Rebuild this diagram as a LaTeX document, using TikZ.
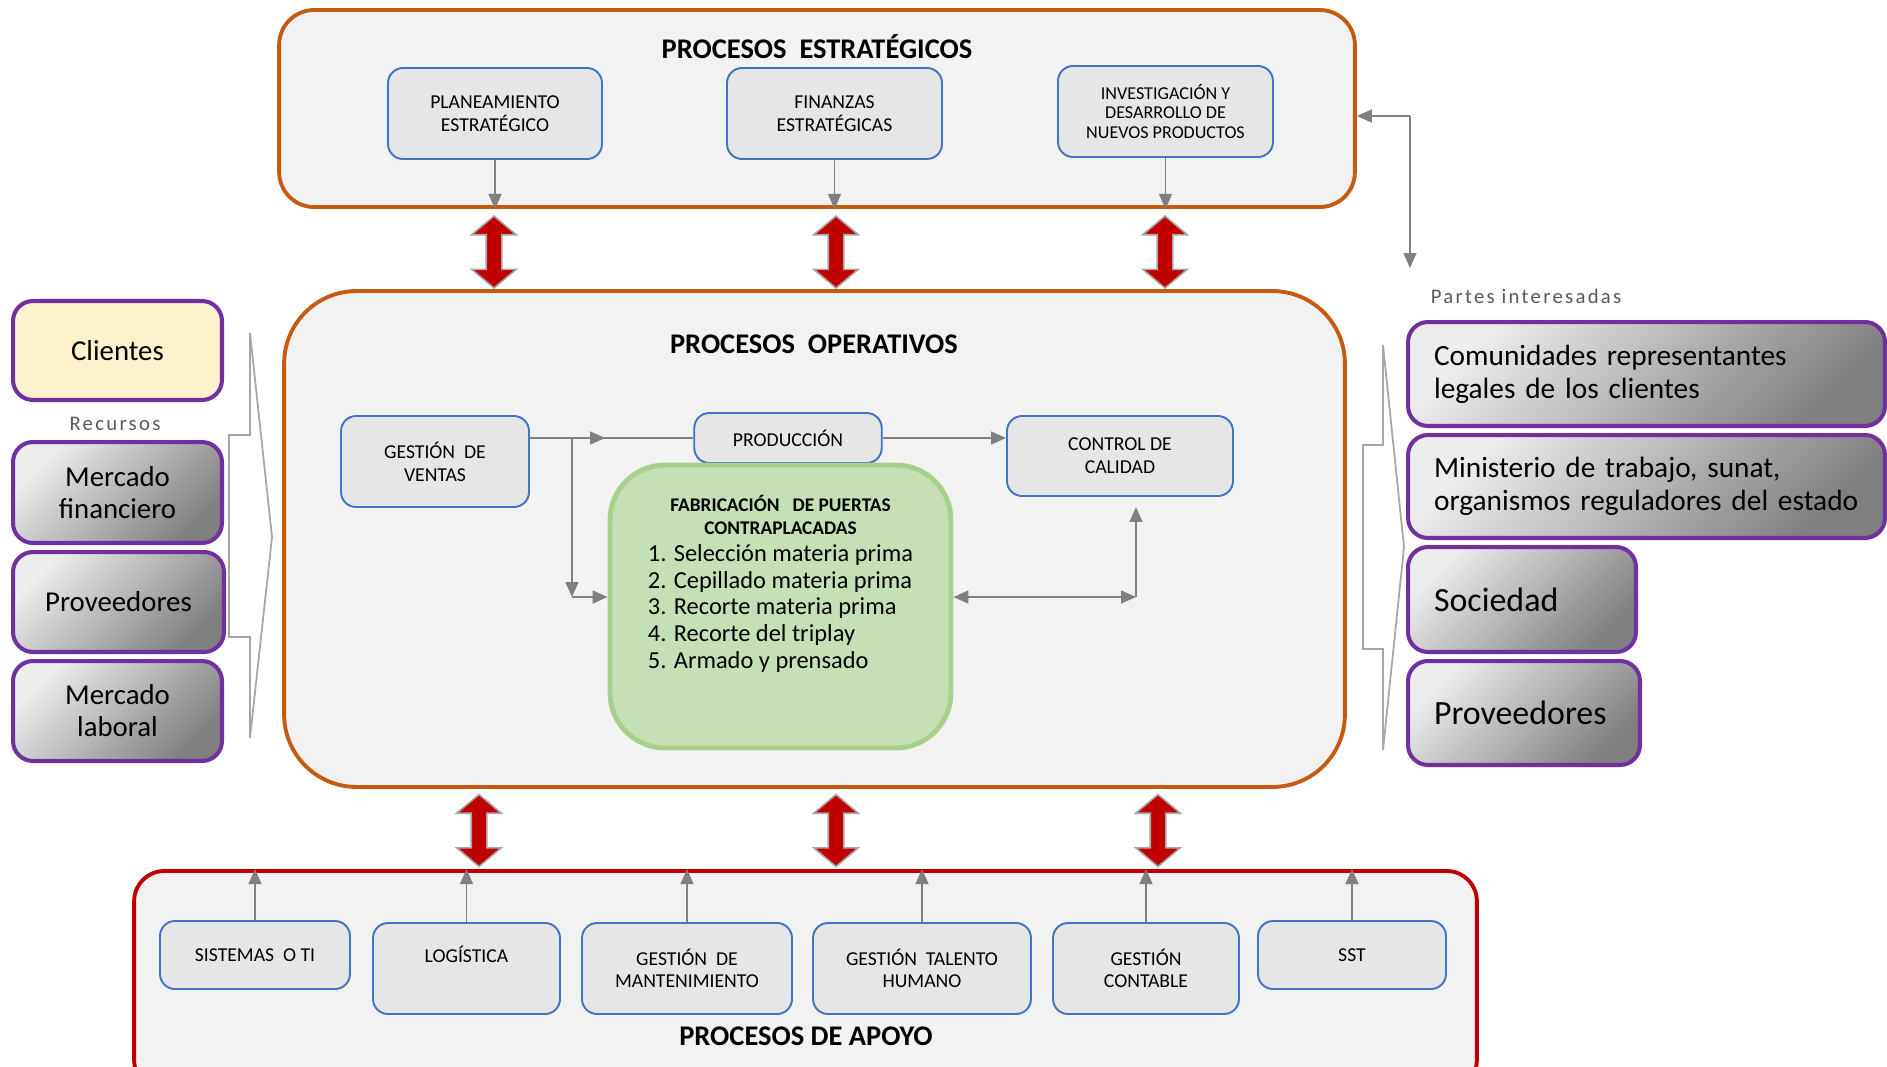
\documentclass[tikz,border=0pt]{standalone}
\usepackage{fontspec}
\setmainfont{Carlito}
\usetikzlibrary{positioning,calc,arrows.meta,shapes.arrows}

\definecolor{naranja}{HTML}{C55A11}
\definecolor{rojo}{HTML}{C00000}
\definecolor{morado}{HTML}{7030A0}
\definecolor{azul}{HTML}{4472C4}
\definecolor{fondo}{HTML}{F2F2F2}
\definecolor{cajagris}{HTML}{E7E6E6}
\definecolor{verdeclaro}{HTML}{C5E0B4}
\definecolor{verdeborde}{HTML}{A9D18E}
\definecolor{crema}{HTML}{FFF2CC}
\definecolor{grisflecha}{HTML}{808080}
\definecolor{grisllave}{HTML}{A6A6A6}
\definecolor{grisrotulo}{HTML}{595959}

\begin{document}
\begin{tikzpicture}[x=0.02cm, y=-0.02cm,
  grande/.style={fill=fondo, line width=2.2pt},
  titulo/.style={font=\fontsize{16.2}{19}\selectfont\bfseries},
  proceso/.style={draw=azul, fill=cajagris, line width=1.1pt, rounded corners=0.3cm,
    align=center, inner sep=0pt, font=\fontsize{11.2}{13.2}\selectfont},
  apoyocaja/.style={proceso, font=\fontsize{11.2}{12.8}\selectfont},
  fabrica/.style={draw=verdeborde, fill=verdeclaro, line width=2.8pt, rounded corners=1.1cm, inner sep=0pt},
  parte/.style={draw=morado, line width=2.3pt, rounded corners=0.4cm, inner sep=0pt},
  degradado/.style={top color=white!93!black, bottom color=white!50!black, shading angle=45},
  recurso/.style={parte, degradado, align=center, font=\fontsize{16.4}{18.2}\selectfont},
  interesado/.style={parte, degradado, align=left, inner xsep=0.52cm, font=\fontsize{16.7}{18.6}\selectfont},
  rotulo/.style={text=grisrotulo, font=\fontsize{11.8}{14}\selectfont\addfontfeature{LetterSpace=11}},
  gflecha/.style={draw=grisflecha, line width=0.8pt, -{Triangle[length=0.3cm, width=0.26cm]}},
  gdoble/.style={gflecha, {Triangle[length=0.3cm, width=0.26cm]}-{Triangle[length=0.3cm, width=0.26cm]}},
  roja/.style={double arrow, draw=grisllave, fill=rojo, line width=0.9pt, rotate=90,
    minimum height=1.44cm, minimum width=0.86cm, inner xsep=0pt, inner ysep=0.14cm,
    double arrow head extend=0.29cm, double arrow tip angle=100},
  llave/.style={draw=grisllave, line width=1pt}]

  \useasboundingbox (0,0) rectangle (1887,1066);

  \node[grande, draw=naranja, rounded corners=0.7cm, minimum width=21.52cm, minimum height=3.94cm] (estr) at (817,108.5) {};
  \node[grande, draw=naranja, rounded corners=1.45cm, minimum width=21.22cm, minimum height=9.92cm] (oper) at (814.5,539) {};
  \node[grande, draw=rojo, rounded corners=0.6cm, minimum width=26.86cm, minimum height=4.38cm] (apoyo) at (805.5,980.5) {};

  \node[titulo] (testr) at (817,47) {PROCESOS\ \ ESTRATÉGICOS};
  \node[titulo] (toper) at (814,344) {PROCESOS\ \ OPERATIVOS};
  \node[titulo] (tapoyo) at (806,1036) {PROCESOS DE APOYO};

  \node[proceso, minimum width=4.28cm, minimum height=1.82cm] (plan) at (495,113.5) {PLANEAMIENTO\\ESTRATÉGICO};
  \node[proceso, minimum width=4.3cm, minimum height=1.82cm] (fin) at (834.5,113.5) {FINANZAS\\ESTRATÉGICAS};
  \node[proceso, minimum width=4.3cm, minimum height=1.82cm, font=\fontsize{10.3}{11}\selectfont] (inv) at (1165.5,111.5) {INVESTIGACIÓN Y\\DESARROLLO DE\\NUEVOS PRODUCTOS};
  \foreach \n in {plan,fin,inv}
    \draw[gflecha] (\n.south) -- (\n.south |- estr.south);

  \foreach \x/\y [count=\i] in {494/252,836/252,1165/252}
    \node[roja] (ra\i) at (\x,\y) {};
  \foreach \x/\y [count=\i] in {479/830.5,836/830.5,1158/830.5}
    \node[roja] (rb\i) at (\x,\y) {};

  \node[proceso, minimum width=3.76cm, minimum height=1.82cm] (ventas) at (435,461.5) {GESTIÓN\ \ DE\\VENTAS};
  \node[proceso, minimum width=3.75cm, minimum height=1cm] (prod) at (788,438) {PRODUCCIÓN};
  \node[proceso, minimum width=4.52cm, minimum height=1.6cm] (cal) at (1120,456) {CONTROL DE\\CALIDAD};
  \node[fabrica] (fab) at (780.5,606.5) {\parbox[c][5.66cm][t]{6.82cm}{\centering
    \vspace*{0.6cm}
    {\fontsize{11}{13.4}\selectfont\bfseries FABRICACIÓN\ \ \ DE PUERTAS\\CONTRAPLACADAS\par}
    \vspace{0.12cm}
    {\fontsize{13.9}{15.2}\selectfont
    \begin{tabular}{@{}l@{}}
      1. Selección materia prima\\
      2. Cepillado materia prima\\
      3. Recorte materia prima\\
      4. Recorte del triplay\\
      5. Armado y prensado
    \end{tabular}\par}}};

  \coordinate (vs) at (ventas.east |- prod.west);
  \coordinate (vb) at ($(vs)+(42,0)$);
  \coordinate (fi) at ([yshift=0.19cm]fab.west);
  \coordinate (fo) at ([yshift=0.19cm]fab.east);
  \coordinate (cq) at ($(cal.south)+(16,0)$);
  \draw[draw=grisflecha, line width=0.8pt] (vs) -- (prod.west);
  \draw[gflecha] (vs) -- ($(vs)!0.46!(prod.west)$);
  \draw[gflecha] (vb) -- (vb |- fi);
  \draw[gflecha] (vb |- fi) -- (fi);
  \draw[gflecha] (prod.east) -- (prod.east -| cal.west);
  \draw[gdoble] (fo) -- (fo -| cq);
  \draw[gflecha] (fo -| cq) -- ($(cq)+(0,10)$);

  \coordinate (pk) at (1410,116);
  \draw[gflecha] (pk) -- (pk -| estr.east);
  \draw[gflecha] (pk) -- ++(0,152);

  \node[parte, fill=crema, minimum width=4.18cm, minimum height=1.98cm, font=\fontsize{16.4}{18.2}\selectfont] (cli) at (117.5,350.5) {Clientes};
  \node[rotulo] (recursos) at (115,424) {Recursos};
  \node[recurso, minimum width=4.18cm, minimum height=2.02cm] (mfin) at (117.5,492.5) {Mercado\\financiero};
  \node[recurso, minimum width=4.22cm, minimum height=2cm] (prov) at (118.5,602) {Proveedores};
  \node[recurso, minimum width=4.18cm, minimum height=2cm] (mlab) at (117.5,711) {Mercado\\laboral};
  \draw[llave] (250,333) -- (250,435) -- (229,435) -- (229,637) -- (250,637) -- (250,738) -- (272,537) -- cycle;

  \node[rotulo] (partes) at (1526,296) {Partes interesadas};
  \node[interesado, text width=8.5cm, minimum height=2.08cm] (comu) at (1646.5,374) {Comunidades representantes\\legales de los clientes};
  \node[interesado, text width=8.5cm, minimum height=2.06cm] (mins) at (1646.5,486.5) {Ministerio de trabajo, sunat,\\organismos reguladores del estado};
  \node[interesado, text width=3.52cm, minimum height=2.1cm, font=\fontsize{19.3}{22}\selectfont] (soci) at (1522,599.5) {Sociedad};
  \node[interesado, text width=3.6cm, minimum height=2.08cm, font=\fontsize{19.3}{22}\selectfont] (provb) at (1524,713) {Proveedores};
  \draw[llave] (1383,345) -- (1383,445) -- (1363,445) -- (1363,649) -- (1383,649) -- (1383,750) -- (1404,547) -- cycle;

  \node[apoyocaja, minimum width=3.8cm, minimum height=1.36cm] (sis) at (255,955) {SISTEMAS\ \ O TI};
  \node[apoyocaja, minimum width=3.74cm, minimum height=1.82cm, text height=0.25cm, text depth=0.49cm] (logi) at (466.5,968.5) {LOGÍSTICA};
  \node[apoyocaja, minimum width=4.2cm, minimum height=1.82cm] (mant) at (687,968.5) {GESTIÓN\ \ DE\\MANTENIMIENTO};
  \node[apoyocaja, minimum width=4.36cm, minimum height=1.82cm] (tal) at (922,968.5) {GESTIÓN\ \ TALENTO\\HUMANO};
  \node[apoyocaja, minimum width=3.72cm, minimum height=1.82cm] (cont) at (1146,968.5) {GESTIÓN\\CONTABLE};
  \node[apoyocaja, minimum width=3.76cm, minimum height=1.36cm] (sst) at (1352,955) {SST};
  \foreach \n in {sis,logi,mant,tal,cont,sst}
    \draw[gflecha] (\n.north) -- (\n.north |- apoyo.north);
\end{tikzpicture}
\end{document}
